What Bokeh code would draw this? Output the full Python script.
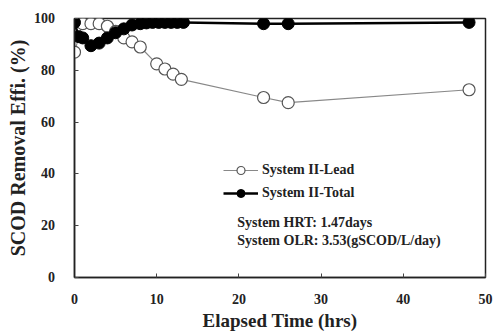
from bokeh.plotting import figure
from bokeh.models import Range1d, Legend, LegendItem, Label, FixedTicker
from bokeh.embed import file_html
from bokeh.resources import INLINE

# Data
lead_x = [0, 1, 2, 3, 4, 5, 6, 7, 8, 10, 11, 12, 13, 23, 26, 48]
lead_y = [87, 98, 98, 98, 97, 95, 92.5, 91, 89, 82.5, 80.5, 78.5, 76.5, 69.5, 67.5, 72.5]

total_x = [0, 0.5, 1, 2, 3, 4, 5, 6, 7, 8, 8.75, 9.5, 10.25, 11, 11.75, 12.5, 13.25, 23, 26, 48]
total_y = [98.5, 93, 92.5, 89.5, 90.5, 92.5, 94.5, 96, 97.5, 98, 98.3, 98.5, 98.5, 98.5, 98.5, 98.5, 98.5, 98, 98, 98.5]

x_ticks = [0, 10, 20, 30, 40, 50]
y_ticks = [0, 20, 40, 60, 80, 100]

FONT = "Liberation Serif"

p = figure(width=494, height=336, output_backend="svg", toolbar_location=None,
           x_range=Range1d(0, 50), y_range=Range1d(0, 100),
           min_border_left=74, min_border_right=9, min_border_top=18, min_border_bottom=59)
p.grid.visible = False
p.outline_line_color = "#222222"
p.outline_line_width = 1.5
p.background_fill_color = "white"
p.border_fill_color = "white"

for ax in (p.xaxis[0], p.yaxis[0]):
    ax.axis_line_color = "#222222"
    ax.axis_line_width = 1.5
    ax.major_tick_in = 4
    ax.major_tick_out = 0
    ax.minor_tick_line_color = None
    ax.major_tick_line_color = "#444444"
    ax.major_label_text_font = FONT
    ax.major_label_text_font_style = "bold"
    ax.major_label_text_font_size = "14px"
    ax.major_label_text_color = "#222222"
    ax.axis_label_text_font = FONT
    ax.axis_label_text_font_style = "bold"
    ax.axis_label_text_color = "#222222"

p.yaxis.axis_label_text_font_size = "20px"
p.xaxis.axis_label_text_font_size = "19px"

p.xaxis.ticker = FixedTicker(ticks=x_ticks)
p.yaxis.ticker = FixedTicker(ticks=y_ticks)
# pad y tick labels on the right with no-break spaces to keep them clear of the axis
p.yaxis.major_label_overrides = {t: str(t) + "\u00a0" * 5 for t in y_ticks}
p.xaxis.axis_label = "Elapsed Time (hrs)"
p.yaxis.axis_label = "SCOD Removal Effi. (%)"
p.xaxis.major_label_standoff = 16
p.yaxis.major_label_standoff = 2
p.yaxis.major_label_text_align = "right"
p.xaxis.axis_label_standoff = 3
p.yaxis.axis_label_standoff = 2

lead_line = p.line(lead_x, lead_y, line_color="#888888", line_width=1.2)
lead_pts = p.scatter(lead_x, lead_y, marker="circle", size=12, fill_color="white",
                     line_color="#555555", line_width=1.2)

tot_line = p.line(total_x, total_y, line_color="black", line_width=2.5)
tot_pts = p.scatter(total_x, total_y, marker="circle", size=12, fill_color="black",
                    line_color="black")

legend = Legend(items=[
    LegendItem(label="System II-Lead", renderers=[lead_line, lead_pts]),
    LegendItem(label="System II-Total", renderers=[tot_line, tot_pts]),
], location=(149, 74))
legend.padding = 0
legend.margin = 0
legend.spacing = 3
legend.glyph_width = 35
legend.glyph_height = 20
legend.label_height = 20
legend.border_line_color = None
legend.background_fill_alpha = 0
legend.label_text_font = FONT
legend.label_text_font_style = "bold"
legend.label_text_font_size = "14px"
legend.label_text_color = "#222222"
legend.label_standoff = 4
p.add_layout(legend, "center")

for txt, yv in [("System HRT: 1.47days", 21.2), ("System OLR: 3.53(gSCOD/L/day)", 14.3)]:
    p.add_layout(Label(x=19.8, y=yv, text=txt, text_font=FONT, text_font_style="bold",
                       text_font_size="14px", text_color="#222222", text_baseline="middle"))

open("out.html", "w").write(file_html(p, INLINE))
